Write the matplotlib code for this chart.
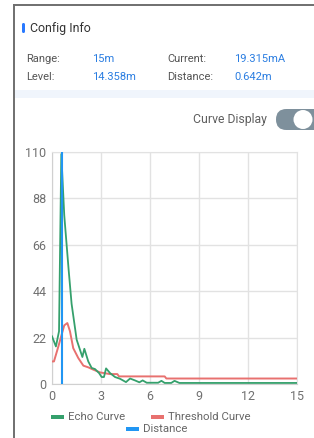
import matplotlib.pyplot as plt
from matplotlib.patches import Rectangle, FancyBboxPatch, Ellipse

plt.rcParams['font.family'] = ['Roboto', 'DejaVu Sans']

# Header values
info_labels = ['Range:', 'Current:', 'Level:', 'Distance:']
info_values = ['15m', '19.315mA', '14.358m', '0.642m']

# Echo curve (green)
echo_x = [0, 0.24, 0.43, 0.57, 0.75, 1.02, 1.2, 1.51, 1.71, 1.86, 1.98, 2.22, 2.43, 2.63,
          2.88, 3.04, 3.18, 3.31, 3.55, 3.86, 4.16, 4.53, 4.78, 5.08, 5.35, 5.55, 5.8,
          6.5, 6.7, 6.9, 7.3, 7.5, 7.8, 8.1, 15]
echo_y = [22.6, 17.8, 25, 109, 80, 54, 38, 21, 16.3, 12.8, 16.7, 10.7, 7.6, 7.1,
          5.2, 3.3, 3.3, 7.4, 5.2, 3.3, 2.5, 0.9, 2.6, 1.7, 0.8, 1.7, 0.6,
          0.6, 1.5, 0.5, 0.5, 1.5, 0.5, 0.5, 0.5]

# Threshold curve (red)
thr_x = [0, 0.12, 0.39, 0.59, 0.75, 0.94, 1.1, 1.3, 1.61, 1.92, 2.22, 2.53, 2.94,
         3.55, 4.0, 4.1, 6.9, 7.0, 15]
thr_y = [10.7, 10.7, 17.8, 23.4, 27.8, 28.9, 25, 17, 12.3, 8.7, 7.9, 6.8, 5.5,
         4.7, 4.7, 3.6, 3.6, 2.6, 2.6]

distance = 0.642
x_ticks = [0, 3, 6, 9, 12, 15]
y_ticks = [0, 22, 44, 66, 88, 110]

green = '#35a06c'
red = '#e8716f'
blue = '#2196f3'

W, H = 314, 438
fig = plt.figure(figsize=(W / 100, H / 100), dpi=100)

def fx(px):
    return px / W

def fy(py):
    return 1 - py / H

# card border and header band
fig.add_artist(plt.Line2D([fx(14), fx(14)], [0, fy(5)], color='#6f6f6f', lw=1.4))
fig.add_artist(plt.Line2D([fx(14), 1], [fy(5), fy(5)], color='#6f6f6f', lw=1.4))
fig.add_artist(Rectangle((fx(15), fy(98)), 1, (98 - 90) / H, color='#f0f5fc', lw=0))

# title with blue marker
fig.add_artist(FancyBboxPatch((fx(22), fy(33)), 3 / W, 10 / H,
                              boxstyle='round,pad=0,rounding_size=0.004',
                              color='#2979ff', lw=0))
fig.text(fx(30), fy(28.5), 'Config Info', fontsize=8.9, color='#333333', va='center')

label_pos = [(26, 58.5), (167, 58.5), (26, 77.5), (167, 77.5)]
value_pos = [(92, 58.5), (234, 58.5), (92, 77.5), (234, 77.5)]
for t, (x, y) in zip(info_labels, label_pos):
    fig.text(fx(x), fy(y), t, fontsize=8.0, color='#555555', va='center')
for t, (x, y) in zip(info_values, value_pos):
    fig.text(fx(x), fy(y), t, fontsize=8.0, color='#2a7de1', va='center')

# toggle
fig.text(fx(267), fy(119), 'Curve Display', fontsize=8.8, color='#5f5f5f',
         va='center', ha='right')
fig.add_artist(FancyBboxPatch((fx(276), fy(130)), 50 / W, 21 / H,
                              boxstyle='round,pad=0,rounding_size=0.033',
                              color='#7e909c', lw=0, mutation_aspect=W / H))
fig.add_artist(Ellipse((fx(303), fy(119.5)), 19 / W, 19 / H, color='white', lw=0))

# chart
ax = fig.add_axes([52 / W, 1 - 384 / H, 245 / W, 232 / H])
ax.plot(thr_x, thr_y, color=red, lw=1.4, zorder=3)
ax.plot(echo_x, echo_y, color=green, lw=1.3, zorder=4)
ax.plot([distance, distance], [0, 110], color=blue, lw=1.5, zorder=5)

ax.set_xlim(0, 15)
ax.set_ylim(0, 110)
ax.set_xticks(x_ticks)
ax.set_yticks(y_ticks)
ax.grid(True, color='#e2e2e2', lw=1)
ax.set_axisbelow(True)
for s in ax.spines.values():
    s.set_color('#e2e2e2')
ax.spines['left'].set_color('#d0d0d0')
ax.spines['bottom'].set_color('#d0d0d0')
ax.tick_params(length=0, pad=4, labelsize=9, colors='#707070')

# legend
legend = [(51, 416.5, green, 'Echo Curve'),
          (151, 416.5, red, 'Threshold Curve'),
          (126, 428.5, blue, 'Distance')]
for x, y, c, t in legend:
    fig.add_artist(Rectangle((fx(x), fy(y + 2)), 12.5 / W, 4 / H, color=c, lw=0))
    fig.text(fx(x + 17), fy(y), t, fontsize=8.2, color='#666666', va='center')

fig.savefig('out.png', dpi=100)
